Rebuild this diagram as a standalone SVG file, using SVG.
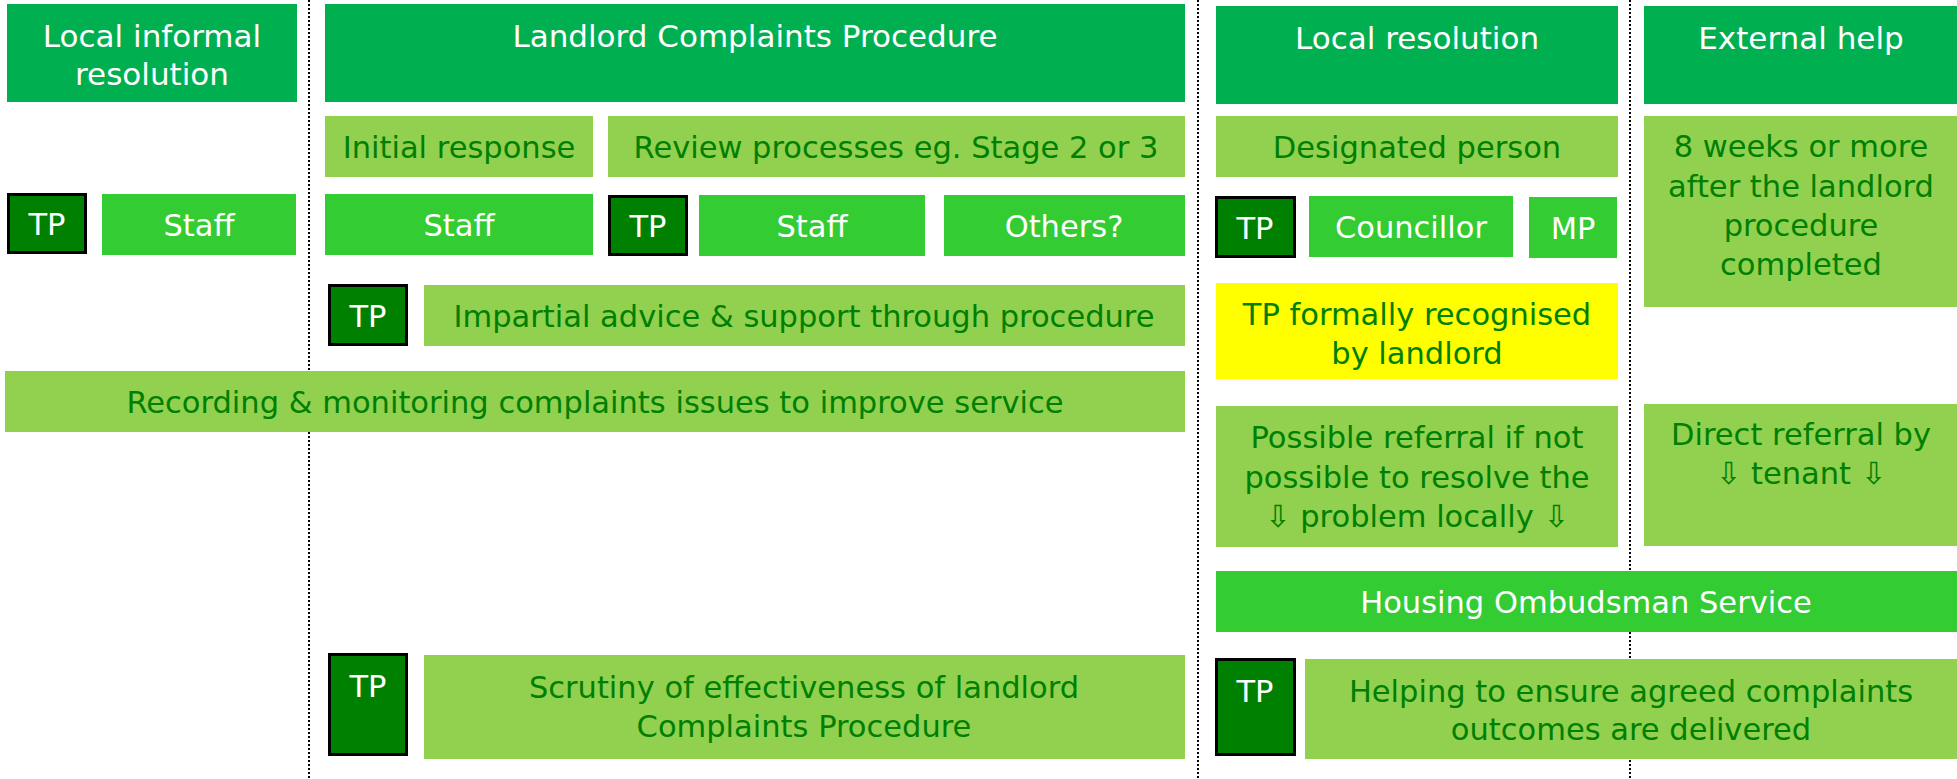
<svg xmlns="http://www.w3.org/2000/svg" width="1957" height="779" viewBox="0 0 1957 779">
<style>
text{font-family:"DejaVu Sans","Liberation Sans",sans-serif;font-size:30.5px;text-anchor:middle}
.hdr{fill:#00B050}
.lt{fill:#92D050}
.md{fill:#33CC33}
.yl{fill:#FFFF00}
.tp{fill:#008000;stroke:#000;stroke-width:3}
.w{fill:#FFFFFF}
.g{fill:#008000}
.h{font-size:31px}
.div{stroke:#000;stroke-width:2;stroke-dasharray:2 2;fill:none}
</style>
<rect width="1957" height="779" fill="#FFFFFF"/>
<g id="dividers">
<line class="div" x1="309" y1="0" x2="309" y2="779"/>
<line class="div" x1="1198" y1="0" x2="1198" y2="779"/>
<line class="div" x1="1630" y1="0" x2="1630" y2="779"/>
</g>
<g id="connectors"/>
<g id="hdr-local-informal"><rect class="hdr" x="7" y="4" width="290" height="98"/><text class="w h" x="152" y="47">Local informal</text><text class="w h" x="152" y="85">resolution</text></g>
<g id="hdr-landlord"><rect class="hdr" x="325" y="4" width="860" height="98"/><text class="w h" x="755" y="47">Landlord Complaints Procedure</text></g>
<g id="hdr-local-resolution"><rect class="hdr" x="1216" y="6" width="402" height="98"/><text class="w h" x="1417" y="49">Local resolution</text></g>
<g id="hdr-external"><rect class="hdr" x="1644" y="6" width="313" height="98"/><text class="w h" x="1801" y="49">External help</text></g>
<g id="initial"><rect class="lt" x="325" y="116" width="268" height="61"/><text class="g" x="459" y="158">Initial response</text></g>
<g id="review"><rect class="lt" x="608" y="116" width="577" height="61"/><text class="g" x="896" y="158">Review processes eg. Stage 2 or 3</text></g>
<g id="designated"><rect class="lt" x="1216" y="116" width="402" height="61"/><text class="g" x="1417" y="158">Designated person</text></g>
<g id="eight-weeks"><rect class="lt" x="1644" y="116" width="313" height="191"/><text class="g" x="1801" y="157">8 weeks or more</text><text class="g" x="1801" y="197">after the landlord</text><text class="g" x="1801" y="236">procedure</text><text class="g" x="1801" y="275">completed</text></g>
<g id="tp-1"><rect class="tp" x="8.5" y="194.5" width="77" height="58"/><text class="w" x="47" y="235">TP</text></g>
<g id="staff-1"><rect class="md" x="102" y="194" width="194" height="61"/><text class="w" x="199" y="236">Staff</text></g>
<g id="staff-2"><rect class="md" x="325" y="194" width="268" height="61"/><text class="w" x="459" y="236">Staff</text></g>
<g id="tp-2"><rect class="tp" x="609.5" y="196.5" width="77" height="58"/><text class="w" x="648" y="237">TP</text></g>
<g id="staff-3"><rect class="md" x="699" y="195" width="226" height="61"/><text class="w" x="812" y="237">Staff</text></g>
<g id="others"><rect class="md" x="944" y="195" width="241" height="61"/><text class="w" x="1064" y="237">Others?</text></g>
<g id="tp-3"><rect class="tp" x="1216.5" y="197.5" width="78" height="59"/><text class="w" x="1255" y="239">TP</text></g>
<g id="councillor"><rect class="md" x="1309" y="196" width="204" height="61"/><text class="w" x="1411" y="238">Councillor</text></g>
<g id="mp"><rect class="md" x="1529" y="197" width="88" height="61"/><text class="w" x="1573" y="239">MP</text></g>
<g id="tp-4"><rect class="tp" x="329.5" y="285.5" width="77" height="59"/><text class="w" x="368" y="327">TP</text></g>
<g id="impartial"><rect class="lt" x="424" y="285" width="761" height="61"/><text class="g" x="804" y="327">Impartial advice &amp; support through procedure</text></g>
<g id="tp-recognised"><rect class="yl" x="1216" y="283" width="402" height="96"/><text class="g" x="1417" y="325">TP formally recognised</text><text class="g" x="1417" y="364">by landlord</text></g>
<g id="recording"><rect class="lt" x="5" y="371" width="1180" height="61"/><text class="g" x="595" y="413">Recording &amp; monitoring complaints issues to improve service</text></g>
<g id="possible-referral"><rect class="lt" x="1216" y="406" width="402" height="141"/><text class="g" x="1417" y="448">Possible referral if not</text><text class="g" x="1417" y="488">possible to resolve the</text><text class="g" x="1417" y="527">⇩ problem locally ⇩</text></g>
<g id="direct-referral"><rect class="lt" x="1644" y="404" width="313" height="142"/><text class="g" x="1801" y="445">Direct referral by</text><text class="g" x="1801" y="484">⇩ tenant ⇩</text></g>
<g id="ombudsman"><rect class="md" x="1216" y="571" width="741" height="61"/><text class="w" x="1586" y="613">Housing Ombudsman Service</text></g>
<g id="tp-5"><rect class="tp" x="329.5" y="654.5" width="77" height="100"/><text class="w" x="368" y="697">TP</text></g>
<g id="scrutiny"><rect class="lt" x="424" y="655" width="761" height="104"/><text class="g" x="804" y="698">Scrutiny of effectiveness of landlord</text><text class="g" x="804" y="737">Complaints Procedure</text></g>
<g id="tp-6"><rect class="tp" x="1216.5" y="659.5" width="78" height="95"/><text class="w" x="1255" y="702">TP</text></g>
<g id="helping"><rect class="lt" x="1305" y="659" width="652" height="100"/><text class="g" x="1631" y="702">Helping to ensure agreed complaints</text><text class="g" x="1631" y="740">outcomes are delivered</text></g>
</svg>
